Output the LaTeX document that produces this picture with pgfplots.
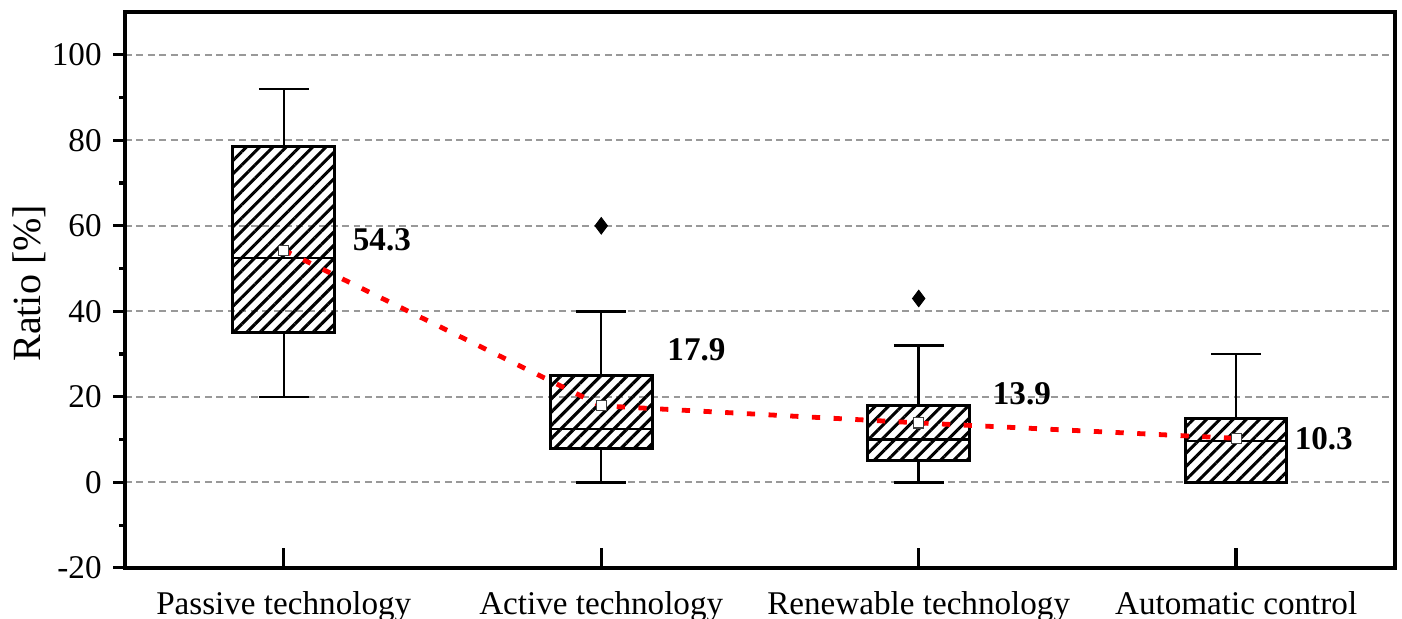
\documentclass[border=0pt]{standalone}
\usepackage{fontspec}
\setmainfont{Liberation Serif}
\usepackage{pgfplots}
\pgfplotsset{compat=1.18}
\usepgfplotslibrary{statistics}
\usetikzlibrary{patterns.meta}
\begin{document}
\fontsize{14.5}{17}\selectfont
\begin{tikzpicture}
\begin{axis}[
  at={(0,0)}, anchor=south west,
  scale only axis,
  width=555.6pt, height=243.2pt,
  xmin=-0.5, xmax=3.5, ymin=-20, ymax=110,
  xtick={0,1,2,3},
  xticklabels={Passive technology, Active technology, Renewable technology, Automatic control},
  ytick={-20,0,20,40,60,80,100},
  minor y tick num=1,
  xtick pos=left, ytick pos=left,
  xtick align=inside, ytick align=outside,
  xtick style={line width=1.5pt, black, /pgfplots/major tick length=8.7pt},
  ytick style={line width=1.4pt, black},
  major tick length=5.2pt, minor tick length=2.6pt,
  minor y tick style={line width=1.4pt, black},
  axis line style={line width=1.5pt},
  ymajorgrids,
  grid style={dash pattern=on 3pt off 2pt, line width=0.9pt, color=black!40},
  /pgf/number format/assume math mode=true,
  ticklabel style={font=\fontsize{14.5}{17}\selectfont},
  xticklabel style={yshift=-5.5pt},
  ylabel={Ratio [\%]},
  ylabel style={at={(axis description cs:-0.0756,0.512)}, anchor=center, font=\fontsize{17.5}{20}\selectfont},
  boxplot/draw direction=y,
  boxplot/box extend=0.32,
  boxplot/whisker extend=0.157,
  boxplot/every box/.style={draw=black, line width=1.3pt, pattern={Lines[angle=45,distance=4.1pt,line width=1.35pt]}},
  boxplot/every whisker/.style={black, line width=1.1pt},
  boxplot/every median/.style={black, line width=1.1pt},
]
\addplot[black, boxplot prepared={draw position=0, lower whisker=20, lower quartile=35, median=52.5, upper quartile=78.5, upper whisker=92}] coordinates {};
\addplot[black, mark=diamond*, mark size=3.6pt, mark options={solid, fill=black},
  boxplot prepared={draw position=1, lower whisker=0, lower quartile=8, median=12.5, upper quartile=25, upper whisker=40}] coordinates {(1,60)};
\addplot[black, mark=diamond*, mark size=3.6pt, mark options={solid, fill=black},
  boxplot prepared={draw position=2, lower whisker=0, lower quartile=5, median=10, upper quartile=18, upper whisker=32}] coordinates {(2,43)};
\addplot[black, boxplot prepared={draw position=3, lower whisker=0, lower quartile=0, median=9.7, upper quartile=15, upper whisker=30}] coordinates {};
\addplot[red, line width=2.1pt, dash pattern=on 3.6pt off 5.9pt, mark=none] coordinates {(0,54.3) (1,17.9) (2,13.9) (3,10.3)};
\addplot[only marks, mark=square*, mark size=2.2pt, mark options={fill=white, draw=black!75, line width=0.5pt}] coordinates {(0,54.3) (1,17.9) (2,13.9) (3,10.3)};
\node[font=\fontsize{14.5}{17}\selectfont\bfseries] at (axis cs:0.309,56.7) {54.3};
\node[font=\fontsize{14.5}{17}\selectfont\bfseries] at (axis cs:1.30,30.9) {17.9};
\node[font=\fontsize{14.5}{17}\selectfont\bfseries] at (axis cs:2.325,20.8) {13.9};
\node[font=\fontsize{14.5}{17}\selectfont\bfseries] at (axis cs:3.276,10.3) {10.3};
\end{axis}
\pgfresetboundingbox
\path[use as bounding box] (-54.7pt,-22.3pt) rectangle (558.7pt,248.45pt);
\end{tikzpicture}
\end{document}
